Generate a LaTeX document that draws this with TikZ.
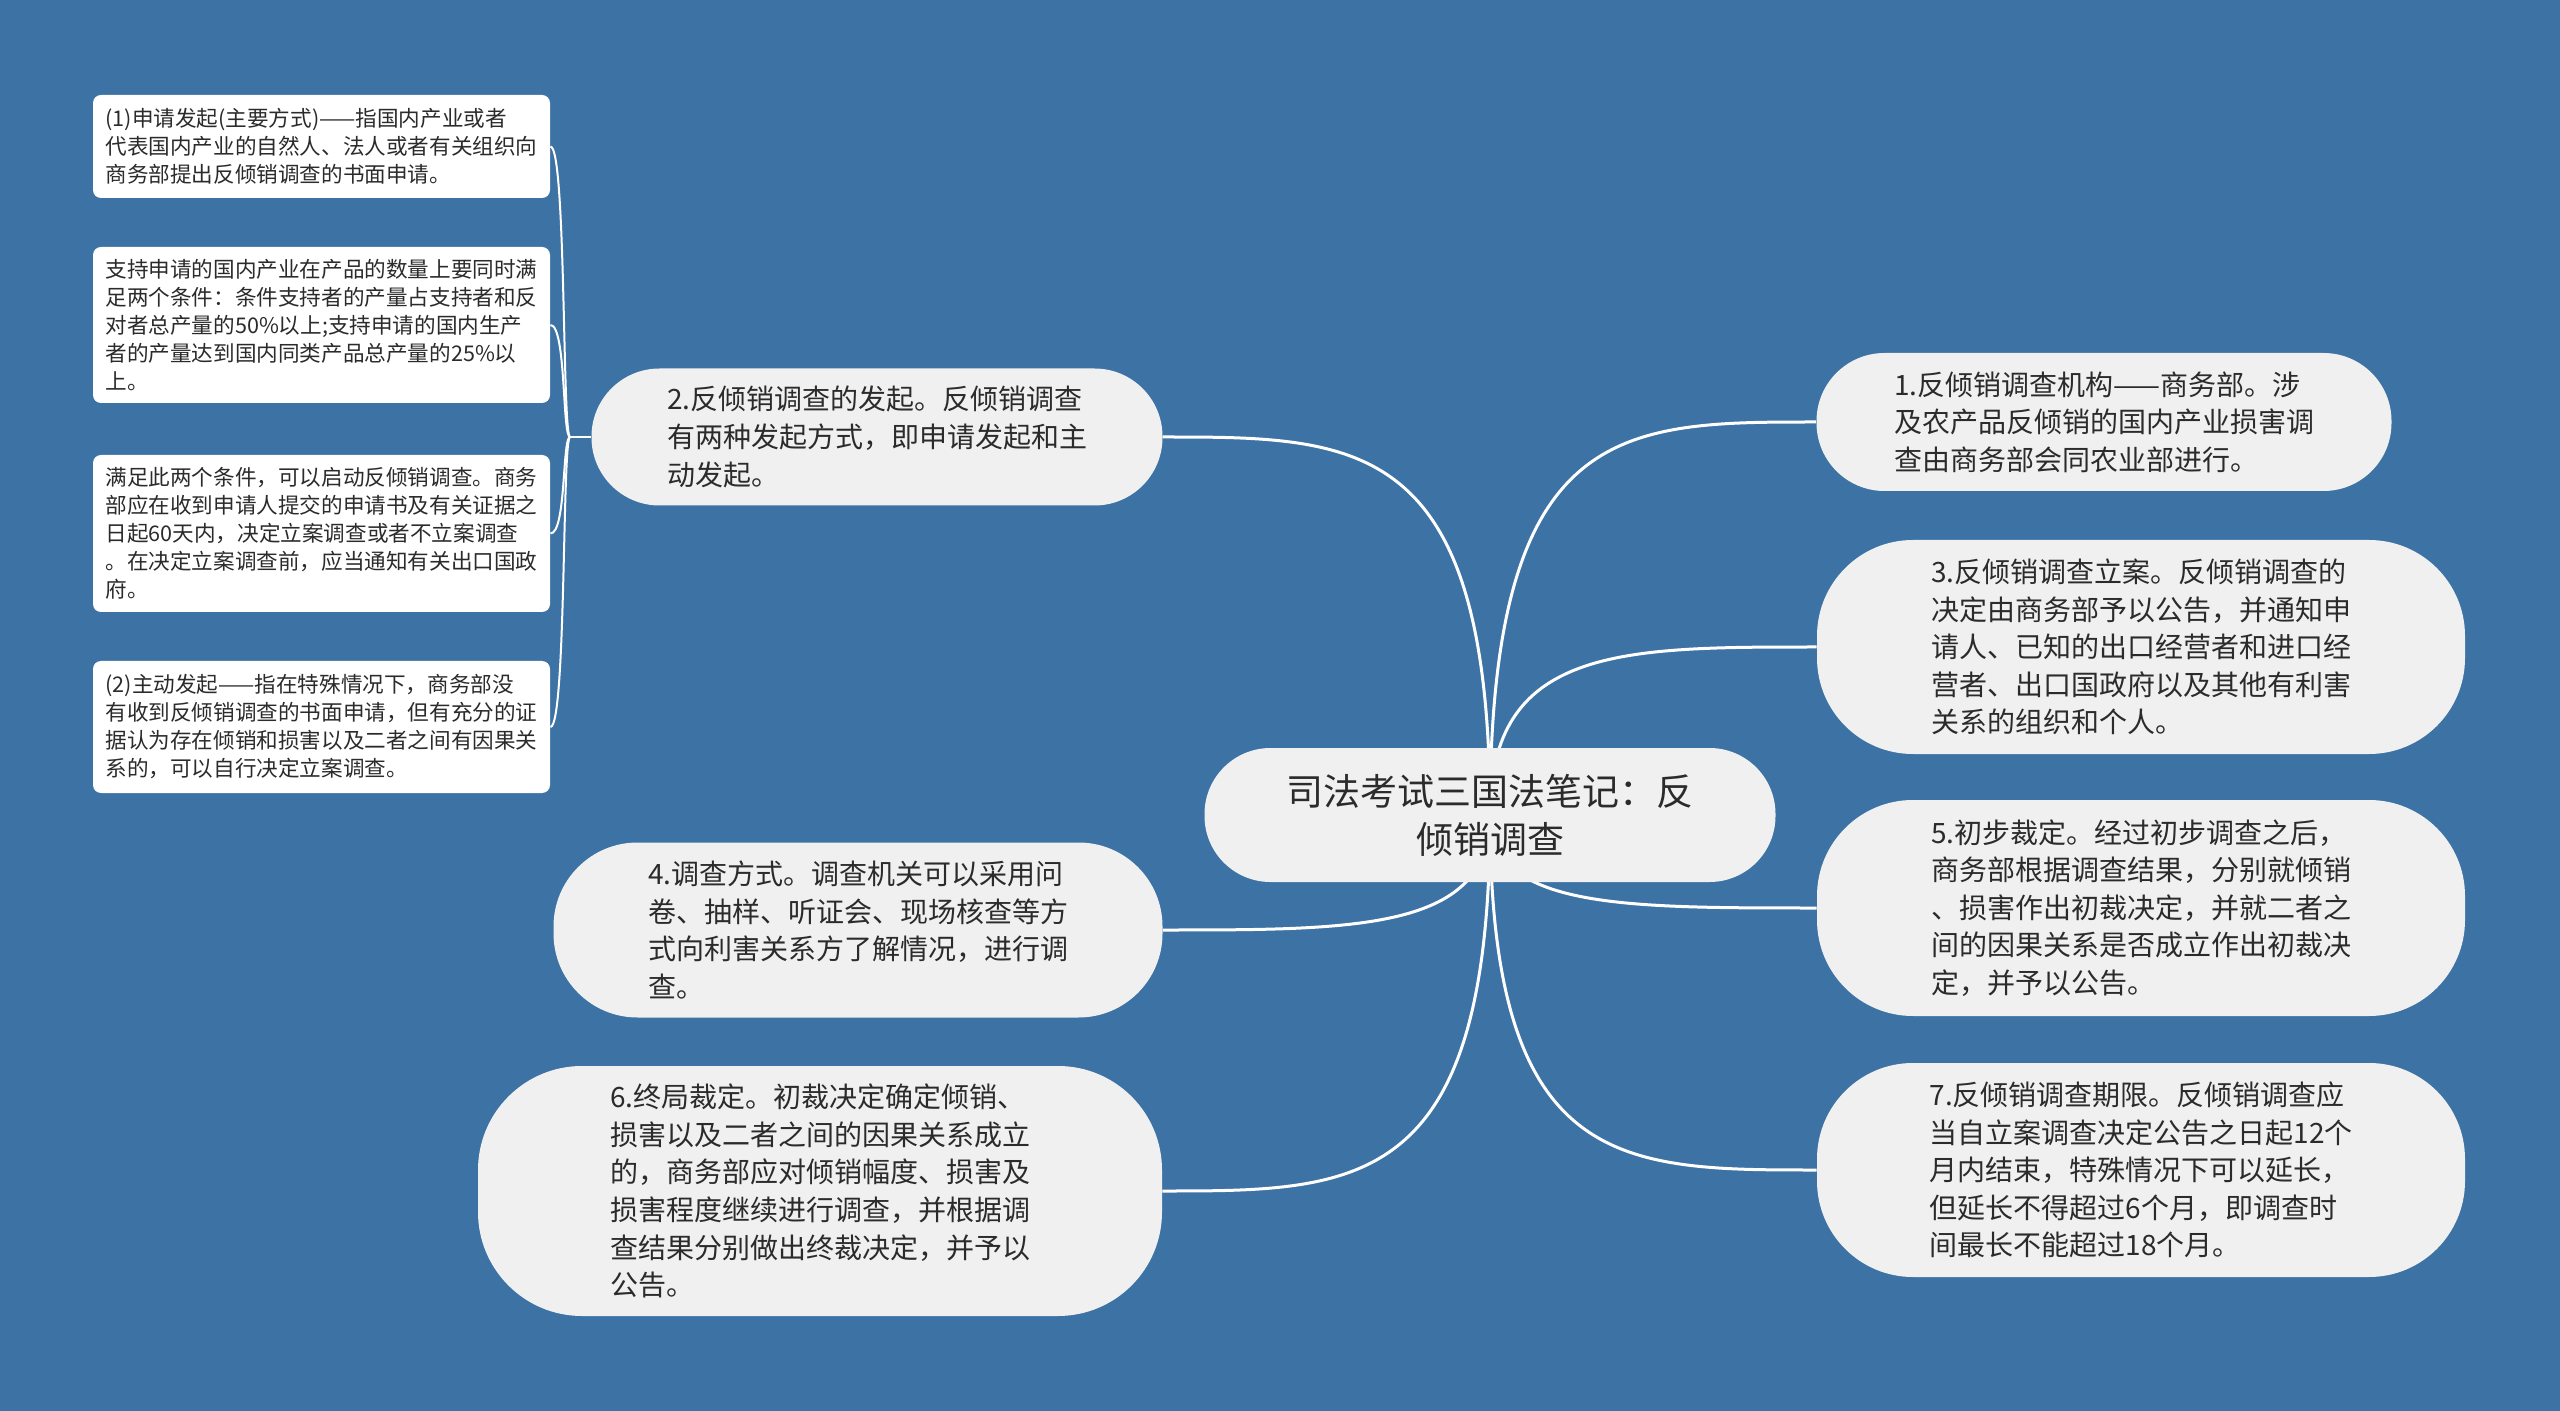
\documentclass[tikz,border=0pt]{standalone}
\usepackage{fontspec}
\setmainfont{Noto Sans CJK SC}
\usetikzlibrary{calc}
\definecolor{bgblue}{HTML}{3D72A5}
\definecolor{nodefill}{HTML}{F0F0F0}
\definecolor{txt}{HTML}{2B2B2B}
\pgfdeclarelayer{bglayer}
\pgfdeclarelayer{linelayer}
\pgfsetlayers{bglayer,linelayer,main}
\begin{document}
\begin{tikzpicture}[x=0.5pt,y=-0.5pt,
  mainnode/.style={fill=nodefill, text=txt, inner sep=0pt, align=left,
    font=\fontsize{14pt}{18.8pt}\selectfont},
  centernode/.style={fill=nodefill, text=txt, inner sep=0pt, align=center,
    font=\fontsize{18.5pt}{24pt}\selectfont, rounded corners=33pt,
    minimum width=285.5pt, minimum height=67pt},
  leafnode/.style={fill=white, text=txt, inner sep=0pt, align=left,
    rounded corners=4pt, minimum width=228.5pt,
    font=\fontsize{10.8pt}{14pt}\selectfont},
  branch/.style={draw=white, line width=1.5pt},
  twig/.style={draw=white, line width=1pt}]
\begin{pgfonlayer}{bglayer}
\fill[bgblue] (0,0) rectangle (2560,1411);
\end{pgfonlayer}
\useasboundingbox (0,0) rectangle (2560,1411);

% center
\node[centernode] (c) at (1490,815) {司法考试三国法笔记：反\\倾销调查};

% left main nodes
\node[mainnode, minimum width=285.5pt, minimum height=68.5pt, rounded corners=34pt] (n2) at (877,437)
  {2.反倾销调查的发起。反倾销调查\\有两种发起方式，即申请发起和主\\动发起。};
\node[mainnode, minimum width=304.5pt, minimum height=87.5pt, rounded corners=42pt] (n4) at (858,930)
  {4.调查方式。调查机关可以采用问\\卷、抽样、听证会、现场核查等方\\式向利害关系方了解情况，进行调\\查。};
\node[mainnode, minimum width=342pt, minimum height=125pt, rounded corners=52pt] (n6) at (820,1191)
  {6.终局裁定。初裁决定确定倾销、\\损害以及二者之间的因果关系成立\\的，商务部应对倾销幅度、损害及\\损害程度继续进行调查，并根据调\\查结果分别做出终裁决定，并予以\\公告。};

% right main nodes
\node[mainnode, minimum width=287.5pt, minimum height=69pt, rounded corners=34pt] (n1) at (2104,422)
  {1.反倾销调查机构——商务部。涉\\及农产品反倾销的国内产业损害调\\查由商务部会同农业部进行。};
\node[mainnode, minimum width=324pt, minimum height=107pt, rounded corners=48pt] (n3) at (2141,647)
  {3.反倾销调查立案。反倾销调查的\\决定由商务部予以公告，并通知申\\请人、已知的出口经营者和进口经\\营者、出口国政府以及其他有利害\\关系的组织和个人。};
\node[mainnode, minimum width=324pt, minimum height=108pt, rounded corners=48pt] (n5) at (2141,908)
  {5.初步裁定。经过初步调查之后，\\商务部根据调查结果，分别就倾销\\、损害作出初裁决定，并就二者之\\间的因果关系是否成立作出初裁决\\定，并予以公告。};
\node[mainnode, minimum width=324pt, minimum height=107pt, rounded corners=48pt] (n7) at (2141,1170)
  {7.反倾销调查期限。反倾销调查应\\当自立案调查决定公告之日起12个\\月内结束，特殊情况下可以延长，\\但延长不得超过6个月，即调查时\\间最长不能超过18个月。};

% leaves
\node[leafnode, minimum height=51.5pt] (l1) at (321.5,146.5)
  {(1)申请发起(主要方式)——指国内产业或者\\代表国内产业的自然人、法人或者有关组织向\\商务部提出反倾销调查的书面申请。};
\node[leafnode, minimum height=78pt] (l2) at (321.5,325)
  {支持申请的国内产业在产品的数量上要同时满\\足两个条件：条件支持者的产量占支持者和反\\对者总产量的50\%以上;支持申请的国内生产\\者的产量达到国内同类产品总产量的25\%以\\上。};
\node[leafnode, minimum height=78.5pt] (l3) at (321.5,533.5)
  {满足此两个条件，可以启动反倾销调查。商务\\部应在收到申请人提交的申请书及有关证据之\\日起60天内，决定立案调查或者不立案调查\\。在决定立案调查前，应当通知有关出口国政\\府。};
\node[leafnode, minimum height=66pt] (l4) at (321.5,727)
  {(2)主动发起——指在特殊情况下，商务部没\\有收到反倾销调查的书面申请，但有充分的证\\据认为存在倾销和损害以及二者之间有因果关\\系的，可以自行决定立案调查。};

\begin{pgfonlayer}{linelayer}
\foreach \n in {n1,n3,n5,n7}
  \draw[branch] (c.center) .. controls (c.center |- \n.west) and ($(c.center |- \n.west)!0.4!(\n.west)$) .. (\n.west);
\foreach \n in {n2,n4,n6}
  \draw[branch] (c.center) .. controls (c.center |- \n.east) and ($(c.center |- \n.east)!0.4!(\n.east)$) .. (\n.east);
\coordinate (hub) at ($(n2.west)+(-21,0)$);
\draw[twig] (n2.west) -- (hub);
\foreach \l in {l1,l2,l3,l4}
  \draw[twig] (hub) .. controls +(-8,0) and +(16,0) .. (\l.east);
\end{pgfonlayer}
\end{tikzpicture}
\end{document}
